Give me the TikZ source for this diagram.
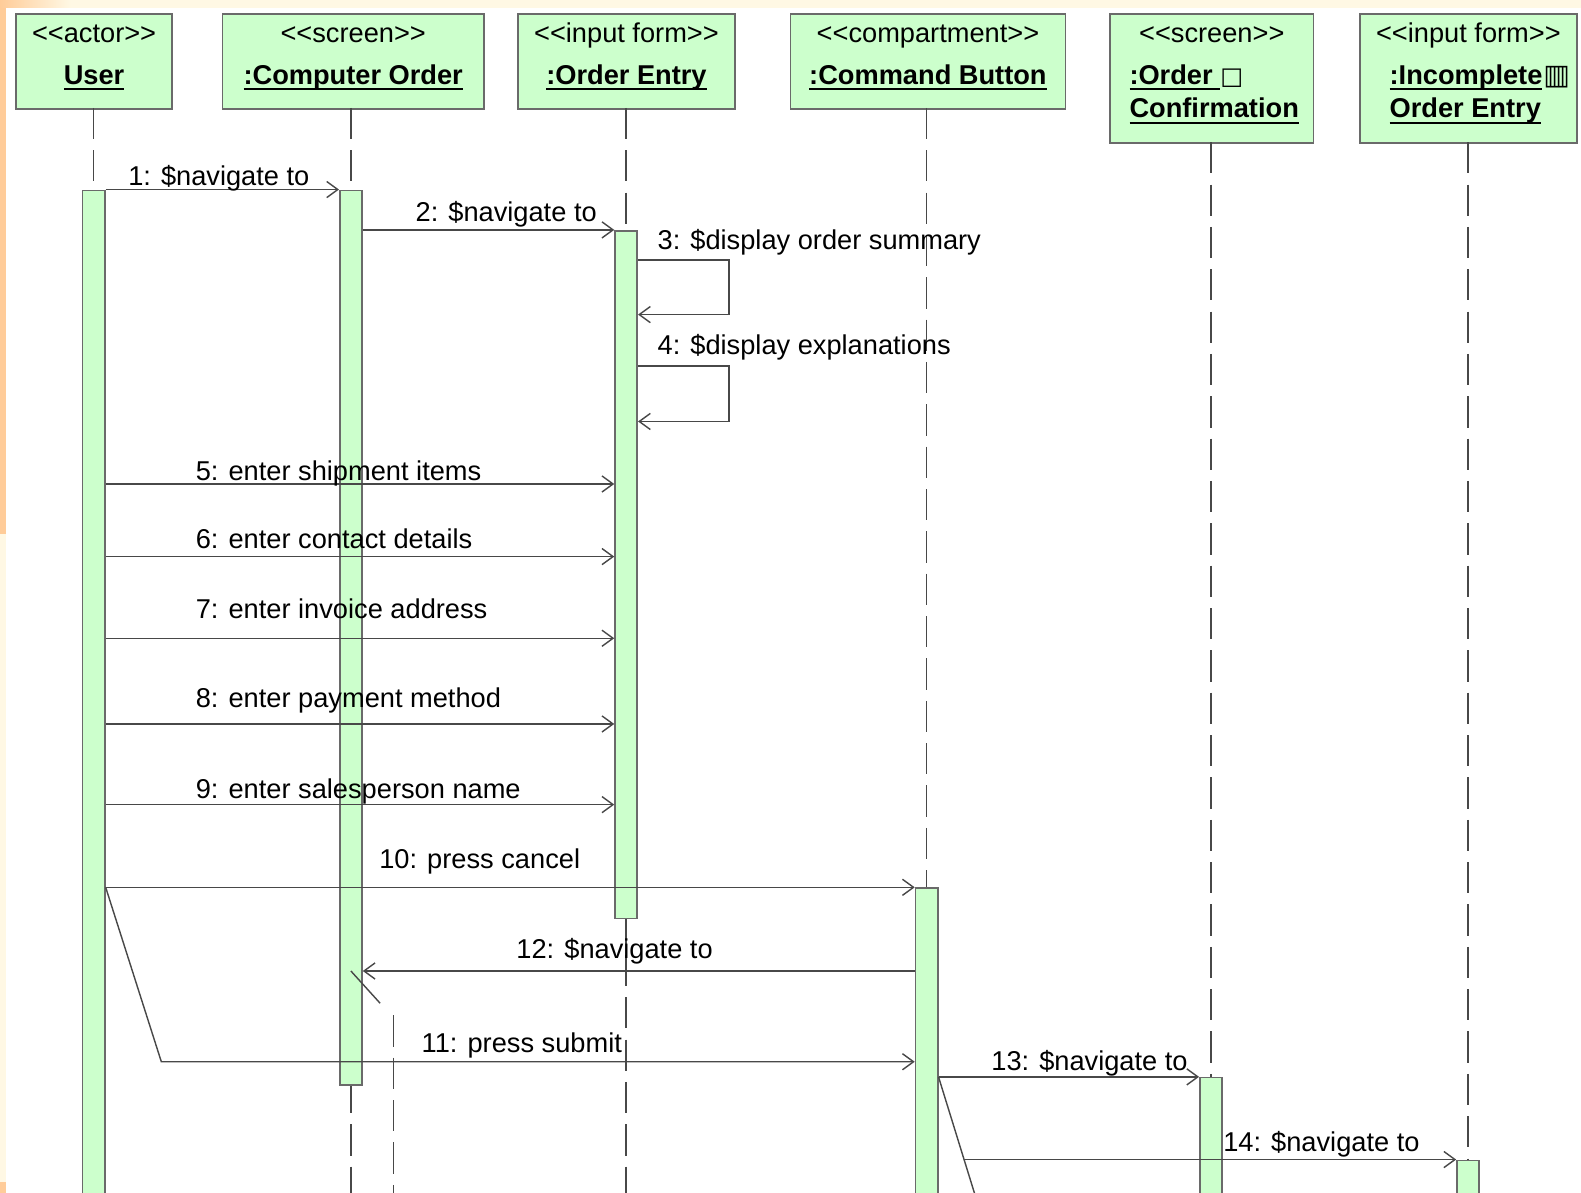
\documentclass[tikz,border=0pt]{standalone}
\usepackage{fontspec}
\setmainfont{Liberation Sans}[Ligatures=TeXOff]
\newfontfamily\symfont{DejaVu Sans}
\usetikzlibrary{arrows.meta}
\definecolor{actgreen}{HTML}{CCFFCC}
\definecolor{edge}{HTML}{6A6A6A}
\definecolor{ink}{HTML}{484848}
\definecolor{paleyellow}{HTML}{FFF8E4}
\definecolor{lightorange}{HTML}{FFCC99}
% underlined object name: rule a fixed distance under the baseline
\newcommand{\ulname}[1]{\setbox0\hbox{#1}\rlap{\rule[-5.5pt]{\wd0}{1.8pt}}\box0}
\begin{document}
\begin{tikzpicture}[x=1pt,y=-1pt,
  every node/.style={font=\fontsize{27}{33}\selectfont, text=black, inner sep=0pt},
  head/.style={draw=edge, line width=1.6pt, fill=actgreen, anchor=north west},
  stereo/.style={anchor=base},
  objname/.style={anchor=base, font=\fontsize{27}{33}\selectfont\bfseries},
  objleft/.style={anchor=base west, font=\fontsize{27}{33}\selectfont\bfseries},
  life/.style={draw=ink, line width=1.4pt, dash pattern=on 31pt off 11pt},
  act/.style={draw=edge, line width=1.6pt, fill=actgreen, anchor=north, minimum width=22pt},
  msg/.style={draw=ink, line width=1.4pt},
  call/.style={msg, -{Straight Barb[length=11pt, width=16pt]}},
  lbl/.style={anchor=base west},
]
\useasboundingbox (0,0) rectangle (1568,1183);
\clip (0,0) rectangle (1568,1183);

% slide background
\fill[paleyellow] (0,0) rectangle (1568,1183);
\shade[left color=lightorange, right color=paleyellow] (0,0) rectangle (70,10);
\fill[lightorange] (0,8) rectangle (6,530);
\fill[lightorange] (0,1172) rectangle (6,1183);
\fill[white] (6,8) rectangle (1568,1183);

% object heads
\node[head, minimum width=155pt, minimum height=94pt] (hUser) at (15,13) {};
\node[head, minimum width=259pt, minimum height=94pt] (hComp) at (220,13) {};
\node[head, minimum width=215pt, minimum height=94pt] (hEntry) at (513,13) {};
\node[head, minimum width=273pt, minimum height=94pt] (hCmd) at (783,13) {};
\node[head, minimum width=202pt, minimum height=128pt] (hConf) at (1100,13) {};
\node[head, minimum width=215pt, minimum height=128pt] (hInc) at (1348,13) {};

\node[stereo] (sUser) at (hUser.north |- 0,42) {<<actor>>};
\node[objname] (nUser) at (hUser.north |- 0,84) {\ulname{User}};
\node[stereo] (sComp) at (hComp.north |- 0,42) {<<screen>>};
\node[objname] (nComp) at (hComp.north |- 0,84) {\ulname{:Computer Order}};
\node[stereo] (sEntry) at (hEntry.north |- 0,42) {<<input form>>};
\node[objname] (nEntry) at (hEntry.north |- 0,84) {\ulname{:Order Entry}};
\node[stereo] (sCmd) at (hCmd.north |- 0,42) {<<compartment>>};
\node[objname] (nCmd) at (hCmd.north |- 0,84) {\ulname{:Command Button}};
\node[stereo] (sConf) at (hConf.north |- 0,42) {<<screen>>};
\node[objleft] (nConfA) at (1120,84) {\ulname{:Order }{\symfont\fontsize{24}{28}\selectfont\char"25A1}};
\node[objleft] (nConfB) at (1120,117) {\ulname{Confirmation}};
\node[stereo] (sInc) at (hInc.north |- 0,42) {<<input form>>};
\node[objleft] (nIncA) at (1378,84) {\ulname{:Incomplete}\kern1pt{\symfont\fontsize{28}{32}\selectfont\char"25A5}};
\node[objleft] (nIncB) at (1378,117) {\ulname{Order Entry}};

% lifelines
\draw[life] (93,107) -- (93,1190);
\draw[life] (348,107) -- (348,1190);
\draw[life] (621,107) -- (621,1190);
\draw[life] (919,107) -- (919,1190);
\draw[life] (1201,141) -- (1201,1190);
\draw[life] (1456,141) -- (1456,1190);
\coordinate (stub) at (390,1007);
\draw[life] (stub) -- (390,1190);

% activations
\node[act, minimum height=1010pt] (aUser) at (93,188) {};
\node[act, minimum height=887pt] (aComp) at (348,188) {};
\node[act, minimum height=682pt] (aEntry) at (621,228) {};
\node[act, minimum height=320pt] (aCmd) at (919,880) {};
\node[act, minimum height=130pt] (aConf) at (1201,1068) {};
\node[act, minimum height=50pt] (aInc) at (1456,1150) {};

% time points of the messages
\coordinate (t3a) at (0,258);  \coordinate (t3b) at (0,312);
\coordinate (t4a) at (0,363);  \coordinate (t4b) at (0,418);
\coordinate (t5) at (0,480);
\coordinate (t6) at (0,552);
\coordinate (t7) at (0,633);
\coordinate (t8) at (0,718);
\coordinate (t9) at (0,798);
\coordinate (t12) at (0,963);
\coordinate (t11) at (0,1053);
\coordinate (k11) at (160,1053);
\coordinate (k14) at (956.5,1150);
\coordinate (k15) at (968.5,1190);
\coordinate (loopx) at (723,0);

% messages
\draw[call] (aUser.north east) -- (aComp.north west);
\draw[call] (aComp.east |- aEntry.north) -- (aEntry.north west);
\draw[call] (aEntry.east |- t3a) -- (loopx |- t3a) -- (loopx |- t3b) -- (aEntry.east |- t3b);
\draw[call] (aEntry.east |- t4a) -- (loopx |- t4a) -- (loopx |- t4b) -- (aEntry.east |- t4b);
\draw[call] (aUser.east |- t5) -- (aEntry.west |- t5);
\draw[call] (aUser.east |- t6) -- (aEntry.west |- t6);
\draw[call] (aUser.east |- t7) -- (aEntry.west |- t7);
\draw[call] (aUser.east |- t8) -- (aEntry.west |- t8);
\draw[call] (aUser.east |- t9) -- (aEntry.west |- t9);
\draw[call] (aUser.east |- aCmd.north) -- (aCmd.north west);
\draw[call] (aCmd.west |- t12) -- (aComp.east |- t12);
\draw[msg] (aComp.center |- t12) -- (377,995);
\draw[call] (aUser.east |- aCmd.north) -- (k11) -- (aCmd.west |- t11);
\draw[call] (aCmd.east |- aConf.north) -- (aConf.north west);
\draw[msg] (aCmd.east |- aConf.north) -- (k15);
\draw[call] (k14) -- (aInc.north west);

% message labels
\node[lbl] (l1) at (127,184) {1: \$navigate to};
\node[lbl] (l2) at (412,220) {2: \$navigate to};
\node[lbl] (l3) at (652,247) {3: \$display order summary};
\node[lbl] (l4) at (652,352) {4: \$display explanations};
\node[lbl] (l5) at (194,477) {5: enter shipment items};
\node[lbl] (l6) at (194,544) {6: enter contact details};
\node[lbl] (l7) at (194,613) {7: enter invoice address};
\node[lbl] (l8) at (194,702) {8: enter payment method};
\node[lbl] (l9) at (194,792) {9: enter salesperson name};
\node[lbl] (l10) at (376,861) {10: press cancel};
\node[lbl] (l12) at (512,951) {12: \$navigate to};
\node[lbl] (l11) at (418,1044) {11: press submit};
\node[lbl] (l13) at (983,1062) {13: \$navigate to};
\node[lbl] (l14) at (1213,1142) {14: \$navigate to};
\end{tikzpicture}
\end{document}
